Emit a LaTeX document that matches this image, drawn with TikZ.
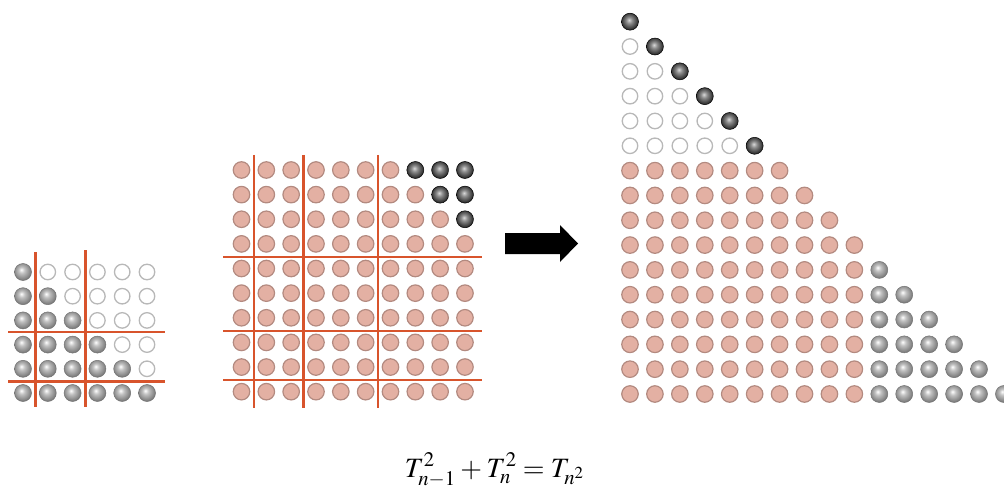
\documentclass[tikz,border=0pt]{standalone}
\usepackage{mathptmx}
\definecolor{pinkfill}{HTML}{E3B0A3}
\definecolor{pinkline}{HTML}{B38A80}
\definecolor{gridred}{HTML}{D8542C}
\pgfdeclareradialshading{grayball}{\pgfpoint{-5bp}{7bp}}{color(0bp)=(white); color(9bp)=(black!24); color(28bp)=(black!55); color(44bp)=(black!74); color(50bp)=(black!64)}
\pgfdeclareradialshading{darkball}{\pgfpoint{-3bp}{5bp}}{color(0bp)=(white!85!black); color(9bp)=(black!45); color(26bp)=(black!85); color(50bp)=(black!92)}
\tikzset{
  gball/.style={circle, inner sep=0pt, minimum size=17pt, shade, shading=grayball, draw=black!55, line width=0.5pt},
  dball/.style={circle, inner sep=0pt, minimum size=17pt, shade, shading=darkball, draw=black, line width=0.5pt},
  pball/.style={circle, inner sep=0pt, minimum size=16.5pt, fill=pinkfill, draw=pinkline, line width=1.2pt},
  eball/.style={circle, inner sep=0pt, minimum size=15.5pt, fill=white, draw=black!28, line width=1.3pt},
  gridline/.style={draw=gridred, line width=2.3pt},
  arrowshape/.style={fill=black}
}
\begin{document}
\begin{tikzpicture}[x=1pt,y=-1pt]
\useasboundingbox (0,0) rectangle (1004,492);
\clip (0,0) rectangle (1004,492);
% ---------- left grid (6x6) ----------
\foreach \r in {0,...,5}{
  \foreach \c in {0,...,5}{
    \ifnum\c>\r
      \node[eball] (L-\r-\c) at ({23+24.8*\c},{272+24.2*\r}) {};
    \else
      \node[gball] (L-\r-\c) at ({23+24.8*\c},{272+24.2*\r}) {};
    \fi
  }
}
\draw[gridline] (35.4,252) -- (35.4,407);
\draw[gridline] (85.5,250) -- (85.5,407);
\draw[gridline] (8,332) -- (165,332);
\draw[gridline] (8,381.5) -- (165,381.5);
% ---------- middle grid (10x10) ----------
\foreach \r in {0,...,9}{
  \foreach \c in {0,...,9}{
    \ifnum\c>\numexpr6+\r\relax
      \node[dball] (M-\r-\c) at ({241.5+24.83*\c},{170+24.63*\r}) {};
    \else
      \node[pball] (M-\r-\c) at ({241.5+24.83*\c},{170+24.63*\r}) {};
    \fi
  }
}
\draw[gridline] (253.9,155) -- (253.9,408);
\draw[gridline] (303.6,155) -- (303.6,408);
\draw[gridline] (378.1,155) -- (378.1,408);
\draw[gridline] (223,256.8) -- (482,256.8);
\draw[gridline] (223,330.7) -- (482,330.7);
\draw[gridline] (223,380) -- (482,380);
% ---------- arrow ----------
\fill[arrowshape] (505,233) -- (560,233) -- (560,225) -- (578,243.5) -- (560,262) -- (560,254) -- (505,254) -- cycle;
% ---------- right triangle (16 rows) ----------
\foreach \r in {0,...,15}{
  \foreach \c in {0,...,\r}{
    \ifnum\r<6
      \ifnum\c<\r
        \node[eball] (R-\r-\c) at ({630+24.93*\c},{21.7+24.82*\r}) {};
      \else
        \node[dball] (R-\r-\c) at ({630+24.93*\c},{21.7+24.82*\r}) {};
      \fi
    \else
      \ifnum\c<10
        \node[pball] (R-\r-\c) at ({630+24.93*\c},{21.7+24.82*\r}) {};
      \else
        \node[gball] (R-\r-\c) at ({630+24.93*\c},{21.7+24.82*\r}) {};
      \fi
    \fi
  }
}
% ---------- formula ----------
\node[anchor=base, inner sep=0pt, font=\fontsize{28}{32}\selectfont] (eq) at (494.5,477) {$T_{n-1}^{2}\mskip3mu{+}\mskip3mu T_{n}^{2}\mskip4mu{=}\mskip4mu T_{n^{2}}$};
\end{tikzpicture}
\end{document}
